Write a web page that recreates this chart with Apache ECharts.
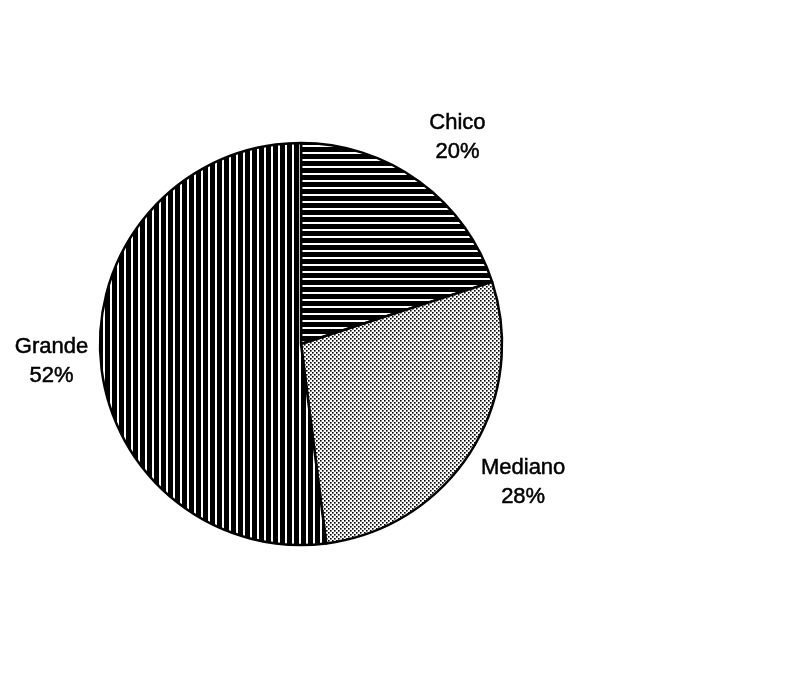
<!DOCTYPE html>
<html><head><meta charset="utf-8">
<script src="https://cdn.jsdelivr.net/npm/echarts@6/dist/echarts.min.js"></script>
<style>html,body{margin:0;padding:0;background:#fff}#c{width:800px;height:676px}</style>
</head><body><div id="c"></div>
<script>
const categories = ['Chico', 'Mediano', 'Grande'];
const values = [20, 28, 52];

function stripes(horizontal) {
  const p = 7, c = document.createElement('canvas');
  c.width = p; c.height = p;
  const g = c.getContext('2d');
  g.fillStyle = '#fff'; g.fillRect(0, 0, p, p);
  g.fillStyle = '#000';
  if (horizontal) g.fillRect(0, 0, p, 5); else g.fillRect(0, 0, 5, p);
  return c;
}
function dots() {
  const c = document.createElement('canvas');
  c.width = 4; c.height = 4;
  const g = c.getContext('2d');
  g.fillStyle = '#fff'; g.fillRect(0, 0, 4, 4);
  g.fillStyle = '#000';
  g.fillRect(0, 0, 1.6, 1.6);
  g.fillRect(2, 2, 1.6, 1.6);
  return c;
}
const fills = [
  { image: stripes(true), repeat: 'repeat' },
  { image: dots(), repeat: 'repeat' },
  { image: stripes(false), repeat: 'repeat' }
];

const chart = echarts.init(document.getElementById('c'), null, { renderer: 'canvas' });
const data = categories.map((n, i) => ({ name: n, value: values[i] }));
chart.setOption({
  backgroundColor: '#fff',
  animation: false,
  series: [
    {
      type: 'pie',
      center: [301, 344],
      radius: 201,
      startAngle: 90,
      clockwise: true,
      silent: true,
      label: { show: false },
      labelLine: { show: false },
      data: data.map((d, i) => ({
        name: d.name, value: d.value,
        itemStyle: { color: fills[i], borderColor: '#000', borderWidth: 2.5 }
      }))
    },
    {
      type: 'pie',
      center: [301, 344],
      radius: [243, 263],
      startAngle: 90,
      clockwise: true,
      silent: true,
      avoidLabelOverlap: false,
      itemStyle: { color: 'rgba(0,0,0,0)', borderWidth: 0 },
      label: {
        show: true,
        position: 'inside',
        formatter: '{b}\n{d}%',
        fontFamily: 'Liberation Sans, Arial, sans-serif',
        fontSize: 22,
        lineHeight: 29,
        color: '#000',
        textBorderColor: '#000',
        textBorderWidth: 0.5,
        align: 'center',
        offset: [6, 1]
      },
      labelLine: { show: false },
      data: data
    }
  ]
});
</script>
</body></html>
